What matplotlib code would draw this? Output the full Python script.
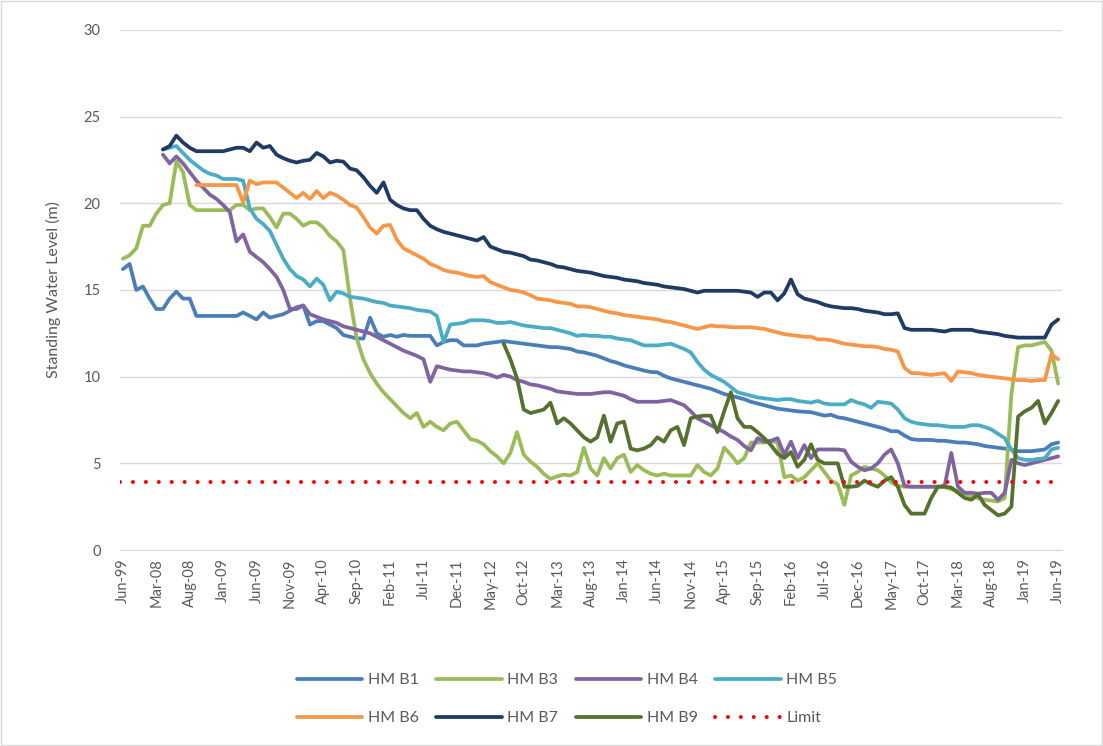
import numpy as np
import matplotlib
matplotlib.use("Agg")
import matplotlib.pyplot as plt

plt.rcParams['font.family'] = ['Lato', 'DejaVu Sans']

nan = np.nan

# Category axis: one point per sampling event, labels every 5th category
TICK_LABELS = ["Jun-99", "Mar-08", "Aug-08", "Jan-09", "Jun-09", "Nov-09", "Apr-10",
               "Sep-10", "Feb-11", "Jul-11", "Dec-11", "May-12", "Oct-12", "Mar-13",
               "Aug-13", "Jan-14", "Jun-14", "Nov-14", "Apr-15", "Sep-15", "Feb-16",
               "Jul-16", "Dec-16", "May-17", "Oct-17", "Mar-18", "Aug-18", "Jan-19",
               "Jun-19"]
N_POINTS = 141
LABEL_STEP = 5

# Standing water level (m) per bore, leading gaps before monitoring began
hm_b1 = [16.2, 16.5, 15.0, 15.2, 14.5, 13.9, 13.9, 14.5, 14.9, 14.5,
         14.5, 13.5, 13.5, 13.5, 13.5, 13.5, 13.5, 13.5, 13.7, 13.5,
         13.3, 13.7, 13.4, 13.5, 13.6, 13.8, 14.0, 14.1, 13.0, 13.2,
         13.2, 13.0, 12.8, 12.4, 12.3, 12.2, 12.2, 13.4, 12.5, 12.3,
         12.4, 12.3, 12.4, 12.35, 12.35, 12.35, 12.35, 11.8, 12.0, 12.1,
         12.1, 11.8, 11.8, 11.8, 11.9, 11.95, 12.0, 12.05, 12.0, 11.95,
         11.9, 11.85, 11.8, 11.75, 11.7, 11.7, 11.65, 11.6, 11.45, 11.4,
         11.3, 11.2, 11.05, 10.9, 10.8, 10.65, 10.55, 10.45, 10.35, 10.27,
         10.25, 10.05, 9.9, 9.8, 9.7, 9.6, 9.5, 9.4, 9.3, 9.15,
         9.0, 8.9, 8.8, 8.7, 8.55, 8.45, 8.35, 8.25, 8.15, 8.1,
         8.05, 8.0, 7.97, 7.95, 7.85, 7.75, 7.8, 7.65, 7.6, 7.5,
         7.4, 7.3, 7.2, 7.1, 7.0, 6.85, 6.85, 6.6, 6.4, 6.35,
         6.35, 6.35, 6.3, 6.3, 6.25, 6.2, 6.2, 6.15, 6.1, 6.0,
         5.95, 5.9, 5.85, 5.8, 5.7, 5.7, 5.7, 5.75, 5.8, 6.1,
         6.2]

hm_b3 = [16.8, 17.0, 17.4, 18.7, 18.7, 19.4, 19.9, 20.0, 22.4, 21.8,
         19.9, 19.6, 19.6, 19.6, 19.6, 19.6, 19.6, 19.9, 19.9, 19.6,
         19.7, 19.7, 19.2, 18.6, 19.4, 19.4, 19.1, 18.7, 18.9, 18.9,
         18.6, 18.1, 17.8, 17.3, 14.5, 12.2, 11.0, 10.2, 9.6, 9.1,
         8.7, 8.3, 7.9, 7.6, 7.9, 7.1, 7.4, 7.1, 6.9, 7.3,
         7.4, 6.9, 6.4, 6.3, 6.1, 5.7, 5.4, 5.0, 5.6, 6.8,
         5.5, 5.1, 4.8, 4.4, 4.1, 4.25, 4.35, 4.3, 4.5, 5.9,
         4.7, 4.3, 5.3, 4.7, 5.3, 5.5, 4.5, 4.9, 4.6, 4.4,
         4.3, 4.4, 4.3, 4.3, 4.3, 4.3, 4.9, 4.5, 4.3, 4.7,
         5.9, 5.5, 5.0, 5.3, 6.2, 6.2, 6.2, 6.3, 6.2, 4.2,
         4.3, 4.0, 4.2, 4.6, 5.0, 4.5, 4.0, 3.8, 2.6, 4.3,
         4.5, 4.8, 4.7, 4.6, 4.3, 3.9, 3.7, 3.65, 3.65, 3.65,
         3.65, 3.65, 3.65, 3.65, 3.5, 3.4, 3.25, 3.1, 3.0, 2.9,
         2.85, 2.8, 3.0, 9.0, 11.7, 11.8, 11.8, 11.9, 12.0, 11.5,
         9.6]

hm_b4 = [nan] * 6 + [
         22.8, 22.3, 22.7, 22.3, 21.8, 21.3, 20.9, 20.5, 20.25, 19.9,
         19.5, 17.8, 18.2, 17.2, 16.9, 16.6, 16.2, 15.75, 15.0, 13.9,
         13.9, 14.1, 13.6, 13.45, 13.3, 13.2, 13.1, 12.9, 12.8, 12.7,
         12.6, 12.5, 12.3, 12.1, 11.9, 11.7, 11.5, 11.35, 11.2, 11.0,
         9.7, 10.6, 10.5, 10.4, 10.35, 10.3, 10.3, 10.25, 10.2, 10.1,
         9.95, 10.1, 10.0, 9.8, 9.7, 9.55, 9.5, 9.4, 9.3, 9.15,
         9.1, 9.05, 9.0, 9.0, 9.0, 9.05, 9.1, 9.1, 9.0, 8.9,
         8.7, 8.55, 8.55, 8.55, 8.55, 8.6, 8.65, 8.5, 8.35, 8.0,
         7.6, 7.4, 7.2, 7.0, 6.8, 6.55, 6.35, 6.0, 5.75, 6.45,
         6.25, 6.3, 6.45, 5.5, 6.25, 5.3, 6.05, 5.3, 5.8, 5.8,
         5.8, 5.8, 5.75, 5.1, 4.8, 4.6, 4.7, 5.0, 5.5, 5.8,
         5.0, 3.7, 3.65, 3.65, 3.65, 3.65, 3.65, 3.7, 5.6, 3.65,
         3.3, 3.3, 3.25, 3.3, 3.3, 2.9, 3.3, 5.2, 5.0, 4.9,
         5.0, 5.1, 5.2, 5.3, 5.4]

hm_b5 = [nan] * 6 + [
         23.1, 23.2, 23.3, 22.9, 22.5, 22.2, 21.9, 21.7, 21.6, 21.4,
         21.4, 21.4, 21.3, 19.7, 19.1, 18.8, 18.4, 17.6, 16.8, 16.2,
         15.8, 15.6, 15.2, 15.65, 15.3, 14.4, 14.9, 14.8, 14.6, 14.55,
         14.5, 14.4, 14.3, 14.25, 14.1, 14.05, 14.0, 13.95, 13.85, 13.8,
         13.75, 13.5, 12.0, 13.0, 13.05, 13.1, 13.25, 13.25, 13.25, 13.2,
         13.1, 13.1, 13.15, 13.05, 12.95, 12.9, 12.85, 12.8, 12.8, 12.7,
         12.6, 12.5, 12.35, 12.4, 12.35, 12.35, 12.3, 12.3, 12.2, 12.15,
         12.1, 11.95, 11.8, 11.8, 11.8, 11.85, 11.9, 11.75, 11.6, 11.4,
         10.85, 10.4, 10.1, 9.9, 9.7, 9.4, 9.1, 9.0, 8.9, 8.8,
         8.75, 8.7, 8.65, 8.7, 8.7, 8.6, 8.55, 8.5, 8.6, 8.45,
         8.4, 8.4, 8.4, 8.65, 8.5, 8.4, 8.2, 8.55, 8.5, 8.45,
         8.1, 7.6, 7.4, 7.3, 7.25, 7.2, 7.2, 7.15, 7.1, 7.1,
         7.1, 7.2, 7.2, 7.1, 6.95, 6.7, 6.45, 5.8, 5.3, 5.2,
         5.2, 5.25, 5.3, 5.8, 5.9]

hm_b6 = [nan] * 11 + [
         21.05, 21.05, 21.05, 21.05, 21.05, 21.05, 21.05, 20.05, 21.3, 21.1,
         21.2, 21.2, 21.2, 20.9, 20.6, 20.3, 20.6, 20.25, 20.7, 20.3,
         20.6, 20.45, 20.2, 19.9, 19.75, 19.2, 18.6, 18.25, 18.7, 18.75,
         17.9, 17.4, 17.2, 17.0, 16.8, 16.5, 16.35, 16.15, 16.05, 16.0,
         15.9, 15.8, 15.75, 15.8, 15.45, 15.3, 15.15, 15.0, 14.95, 14.85,
         14.7, 14.5, 14.45, 14.4, 14.3, 14.25, 14.2, 14.05, 14.05, 14.0,
         13.9, 13.8, 13.7, 13.65, 13.55, 13.5, 13.45, 13.4, 13.35, 13.3,
         13.2, 13.15, 13.05, 12.95, 12.85, 12.75, 12.85, 12.95, 12.9, 12.9,
         12.85, 12.85, 12.85, 12.85, 12.8, 12.75, 12.65, 12.55, 12.45, 12.4,
         12.35, 12.3, 12.3, 12.15, 12.15, 12.1, 12.0, 11.9, 11.85, 11.8,
         11.75, 11.75, 11.7, 11.6, 11.55, 11.45, 10.5, 10.2, 10.2, 10.15,
         10.1, 10.15, 10.2, 9.75, 10.3, 10.25, 10.2, 10.1, 10.05, 10.0,
         9.95, 9.9, 9.85, 9.8, 9.8, 9.75, 9.8, 9.8, 11.3, 11.0]

hm_b7 = [nan] * 6 + [
         23.1, 23.3, 23.9, 23.5, 23.2, 23.0, 23.0, 23.0, 23.0, 23.0,
         23.1, 23.2, 23.2, 23.0, 23.5, 23.2, 23.3, 22.8, 22.6, 22.45,
         22.35, 22.45, 22.5, 22.9, 22.7, 22.35, 22.45, 22.4, 22.0, 21.9,
         21.5, 21.0, 20.6, 21.2, 20.2, 19.9, 19.7, 19.6, 19.6, 19.1,
         18.7, 18.5, 18.35, 18.25, 18.15, 18.05, 17.95, 17.85, 18.05, 17.5,
         17.35, 17.2, 17.15, 17.05, 16.95, 16.75, 16.7, 16.6, 16.5, 16.35,
         16.3, 16.2, 16.1, 16.05, 16.0, 15.9, 15.8, 15.75, 15.7, 15.6,
         15.55, 15.5, 15.4, 15.35, 15.3, 15.2, 15.15, 15.1, 15.05, 14.95,
         14.85, 14.95, 14.95, 14.95, 14.95, 14.95, 14.95, 14.9, 14.85, 14.6,
         14.85, 14.85, 14.4, 14.8, 15.6, 14.75, 14.5, 14.4, 14.3, 14.15,
         14.05, 14.0, 13.95, 13.95, 13.9, 13.8, 13.75, 13.7, 13.6, 13.6,
         13.65, 12.8, 12.7, 12.7, 12.7, 12.7, 12.65, 12.6, 12.7, 12.7,
         12.7, 12.7, 12.6, 12.55, 12.5, 12.45, 12.35, 12.3, 12.25, 12.25,
         12.25, 12.25, 12.25, 13.0, 13.3]

hm_b9 = [nan] * 57 + [
         11.9, 11.0, 9.9, 8.1, 7.9, 8.0, 8.1, 8.5, 7.3, 7.6,
         7.3, 6.9, 6.5, 6.25, 6.5, 7.75, 6.25, 7.3, 7.4, 5.85,
         5.75, 5.85, 6.05, 6.5, 6.25, 6.9, 7.1, 6.05, 7.6, 7.7,
         7.75, 7.75, 6.8, 8.0, 9.1, 7.6, 7.1, 7.1, 6.8, 6.45,
         6.05, 5.55, 5.3, 5.65, 4.8, 5.2, 6.1, 5.2, 5.0, 5.0,
         5.0, 3.65, 3.65, 3.7, 4.0, 3.8, 3.65, 4.0, 4.2, 3.65,
         2.6, 2.1, 2.1, 2.1, 3.0, 3.65, 3.65, 3.6, 3.3, 3.0,
         2.9, 3.2, 2.6, 2.3, 2.0, 2.1, 2.5, 7.7, 8.0, 8.2,
         8.6, 7.3, 7.9, 8.6]

LIMIT = 3.9

SERIES = [
    ("HM B1", hm_b1, "#4A7EBB"),
    ("HM B3", hm_b3, "#9BBB59"),
    ("HM B4", hm_b4, "#8064A2"),
    ("HM B5", hm_b5, "#4BACC6"),
    ("HM B6", hm_b6, "#F79646"),
    ("HM B7", hm_b7, "#1F3B63"),
    ("HM B9", hm_b9, "#56702E"),
]

fig = plt.figure(figsize=(11.03, 7.46), dpi=100)
ax = fig.add_axes([0.109, 0.2627, 0.854, 0.6973])

x = np.arange(N_POINTS)
handles = []
for name, vals, color in SERIES:
    (h,) = ax.plot(x, np.array(vals, dtype=float), color=color, lw=2.7,
                   solid_joinstyle="round", solid_capstyle="round", label=name)
    handles.append(h)

lim = ax.axhline(LIMIT, color="#FF0000", lw=2.9, linestyle=(0, (0.01, 3.2)),
                 dash_capstyle="round", label="Limit")
handles.append(lim)

ax.set_ylim(0, 30)
ax.set_xlim(-0.4, N_POINTS - 0.4)
ax.set_yticks(np.arange(0, 31, 5))
ax.set_xticks(np.arange(0, N_POINTS, LABEL_STEP))
ax.set_xticklabels(TICK_LABELS, rotation=90)
ax.grid(axis="y", color="#D9D9D9", lw=1)
ax.set_axisbelow(True)
for side in ("left", "right", "top"):
    ax.spines[side].set_visible(False)
ax.spines["bottom"].set_color("#D9D9D9")
ax.tick_params(axis="both", length=0, colors="#595959", labelsize=10.5)
ax.tick_params(axis="y", pad=14)
ax.tick_params(axis="x", pad=6)
ax.set_ylabel("Standing Water Level (m)", color="#595959", fontsize=11.5, labelpad=16)

# Legend is filled column by column, so interleave the two rows
n_cols = 4
row_major = list(range(len(handles)))
order = [row_major[r * n_cols + c] for c in range(n_cols) for r in range(2)]
leg = fig.legend([handles[i] for i in order], [handles[i].get_label() for i in order],
                 loc="upper center", bbox_to_anchor=(0.514, 0.117), ncol=n_cols,
                 frameon=False, fontsize=11.5, handlelength=4.1, handletextpad=0.35,
                 columnspacing=1.1, labelspacing=1.5)
for t in leg.get_texts():
    t.set_color("#595959")

fig.patches.append(plt.Rectangle((0.001, 0.001), 0.998, 0.998, transform=fig.transFigure,
                                 fill=False, edgecolor="#D9D9D9", lw=1))

fig.savefig("out.png", dpi=100, facecolor="white")
